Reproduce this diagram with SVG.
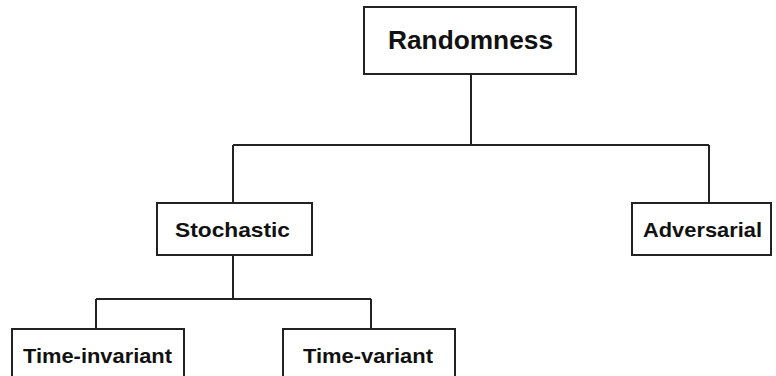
<svg xmlns="http://www.w3.org/2000/svg" width="776" height="376" viewBox="0 0 776 376">
<style>
.box{fill:#fff;stroke:#222;stroke-width:2}
.lbl{font-family:"Liberation Sans",Arial,sans-serif;font-weight:bold;fill:#111;font-size:21px}
.big{font-size:26px}
.conn{fill:none;stroke:#222;stroke-width:2}
</style>
<rect width="776" height="376" fill="#fff"/>
<g id="connectors">
<path class="conn" d="M471 74V145M233 145H709M233 145V203M709 145V203"/>
<path class="conn" d="M233 255V299M96 299H371M96 299V329M371 299V329"/>
</g>
<g id="randomness"><rect class="box" x="364" y="7" width="212" height="67"/><text class="lbl big" x="470.5" y="49" text-anchor="middle" textLength="165" lengthAdjust="spacingAndGlyphs">Randomness</text></g>
<g id="stochastic"><rect class="box" x="157" y="203" width="155" height="52"/><text class="lbl" x="232.5" y="237" text-anchor="middle" textLength="115" lengthAdjust="spacingAndGlyphs">Stochastic</text></g>
<g id="adversarial"><rect class="box" x="632" y="203" width="139" height="52"/><text class="lbl" x="702.5" y="237" text-anchor="middle" textLength="119" lengthAdjust="spacingAndGlyphs">Adversarial</text></g>
<g id="time-invariant"><rect class="box" x="12" y="329" width="172" height="60"/><text class="lbl" x="97.5" y="363" text-anchor="middle" textLength="149" lengthAdjust="spacingAndGlyphs">Time-invariant</text></g>
<g id="time-variant"><rect class="box" x="283" y="329" width="172" height="60"/><text class="lbl" x="368" y="363" text-anchor="middle" textLength="130" lengthAdjust="spacingAndGlyphs">Time-variant</text></g>
</svg>
